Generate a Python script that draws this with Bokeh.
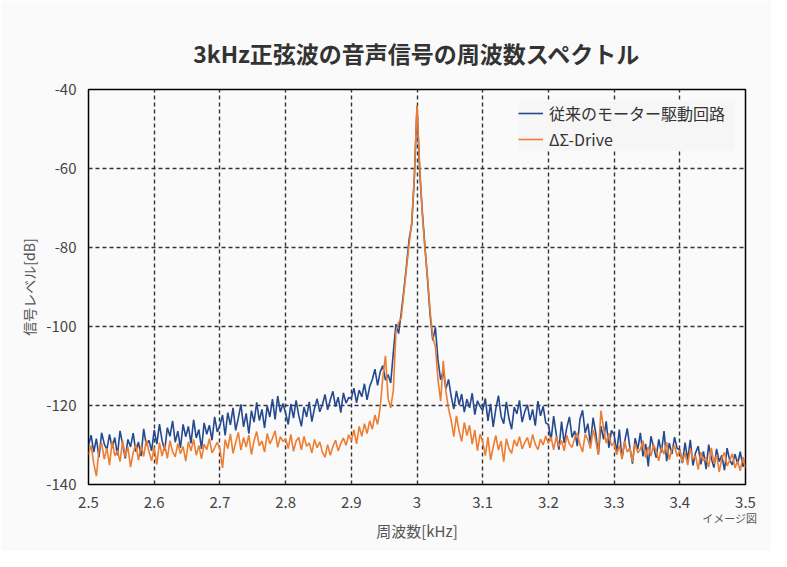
import numpy as np
from bokeh.plotting import figure
from bokeh.models import FixedTicker, Legend, LegendItem, LinearAxis
from bokeh.embed import file_html
from bokeh.resources import INLINE

# Spectrum of a 3 kHz sine tone
# frequency bins: 2.500 .. 3.500 kHz, 0.004 kHz apart
FREQ_START = 2.5
FREQ_STEP = 0.004
N_BINS = 251

# conventional motor drive circuit [dB]
BLUE_DB = [
    # 2.50 - 2.60
    -130.2, -127.5, -131.8, -128.4, -133.1, -126.9, -129.7, -131.2, -127.3, -130.8,
    -128.1, -132.6, -126.4, -129.9, -133.4, -128.6, -130.5, -127.0, -131.7, -129.2,
    -132.8, -125.9, -130.1, -128.8, -131.5,
    # 2.60 - 2.70
    -126.2, -129.8, -124.7, -128.9, -131.4, -125.6, -127.8, -123.9, -129.3, -126.5,
    -130.7, -124.8, -127.9, -125.3, -129.6, -123.6, -128.2, -126.1, -131.0, -124.4,
    -127.3, -125.0, -128.8, -122.9, -126.7,
    # 2.70 - 2.80
    -125.1, -122.4, -127.6, -121.8, -124.9, -120.6, -126.3, -123.2, -119.7, -125.4,
    -122.0, -127.1, -121.3, -124.2, -119.2, -123.8, -121.0, -125.7, -120.1, -122.9,
    -118.4, -123.5, -117.6, -121.7, -119.5,
    # 2.80 - 2.90
    -121.9, -124.8, -119.6, -123.2, -118.7, -122.5, -125.3, -120.4, -122.9, -119.1,
    -124.1, -120.7, -118.3, -121.6, -119.8, -117.2, -121.1, -118.6, -116.4, -120.3,
    -117.9, -121.8, -116.8, -119.4, -118.0,
    # 2.90 - 3.00
    -118.2, -115.6, -119.3, -116.1, -117.8, -114.5, -118.6, -115.2, -113.4, -110.8,
    -114.9, -111.5, -109.9, -113.6, -112.2, -114.3, -106.5, -99.4, -101.8, -96.5,
    -90.8, -84.6, -77.9, -74.2, -62.3,
    # 3.00 - 3.10
    -44.2, -60.5, -70.8, -79.5, -88.0, -97.2, -103.5, -100.2, -108.6, -113.5,
    -111.2, -115.8, -113.4, -117.6, -120.9, -116.3, -119.8, -117.1, -121.7, -118.4,
    -120.6, -116.9, -122.3, -118.8, -120.2,
    # 3.10 - 3.20
    -121.3, -118.2, -123.9, -119.6, -125.4, -120.8, -117.5, -122.7, -124.6, -119.1,
    -123.3, -126.0, -120.4, -122.1, -118.7, -124.2, -121.6, -119.8, -123.7, -121.0,
    -125.1, -118.9, -122.6, -120.2, -124.4,
    # 3.20 - 3.30
    -124.8, -128.9, -122.7, -127.3, -131.2, -124.1, -129.5, -125.6, -122.9, -128.1,
    -126.4, -130.3, -123.5, -121.2, -127.0, -124.6, -129.8, -123.1, -126.9, -132.4,
    -125.2, -128.6, -124.0, -130.7, -126.3,
    # 3.30 - 3.40
    -127.4, -131.8, -126.1, -133.5, -129.2, -125.8, -130.6, -134.7, -128.3, -131.1,
    -126.9, -132.9, -129.7, -135.4, -127.8, -130.4, -133.2, -128.6, -131.9, -126.5,
    -134.1, -129.5, -132.3, -128.0, -130.9,
    # 3.40 - 3.50
    -131.2, -134.6, -129.4, -133.8, -128.7, -135.2, -132.0, -130.3, -134.9, -131.6,
    -136.1, -129.9, -133.4, -135.7, -131.0, -134.2, -132.6, -136.4, -130.8, -133.9,
    -135.0, -132.3, -134.8, -131.7, -135.5, -133.6,
]

# delta-sigma drive [dB]
ORANGE_DB = [
    # 2.50 - 2.60
    -132.4, -130.1, -134.7, -137.9, -131.2, -129.5, -133.6, -130.8, -135.1, -129.0,
    -132.7, -131.4, -134.2, -128.9, -133.0, -130.5, -135.6, -131.9, -129.8, -133.8,
    -130.2, -132.9, -128.7, -131.6, -134.0,
    # 2.60 - 2.70
    -130.6, -134.9, -129.4, -132.8, -130.0, -133.4, -128.9, -131.7, -133.0, -129.6,
    -132.2, -130.4, -134.1, -129.2, -131.5, -128.6, -132.6, -130.1, -133.5, -129.8,
    -131.2, -128.4, -132.0, -130.7, -129.3,
    # 2.70 - 2.80
    -131.0, -135.8, -128.6, -130.9, -127.2, -132.1, -129.4, -126.8, -131.3, -128.1,
    -130.5, -127.5, -132.4, -128.9, -126.6, -130.2, -129.0, -131.8, -127.1, -129.7,
    -128.3, -126.4, -130.6, -127.9, -129.1,
    # 2.80 - 2.90
    -128.4, -130.9, -127.3, -131.6, -129.0, -128.1, -131.2, -127.8, -130.3, -129.5,
    -132.0, -128.6, -130.7, -129.2, -131.8, -133.1, -129.9, -132.6, -130.4, -128.8,
    -131.5, -129.6, -128.2, -130.1, -127.4,
    # 2.90 - 3.00
    -128.9, -126.2, -129.7, -125.3, -127.8, -124.6, -127.1, -123.9, -126.0, -122.4,
    -124.8, -120.5, -112.8, -107.4, -118.2, -120.6, -116.1, -101.2, -99.0, -97.8,
    -91.5, -85.3, -79.2, -73.5, -61.7,
    # 3.00 - 3.10
    -44.0, -58.9, -71.5, -80.3, -87.4, -96.1, -102.7, -105.1, -113.6, -118.9,
    -108.7, -116.4, -120.8, -123.7, -127.9, -122.6, -126.4, -129.1, -124.3, -127.6,
    -125.0, -129.8, -126.2, -131.4, -127.3,
    # 3.10 - 3.20
    -129.2, -132.7, -128.0, -133.8, -130.5, -127.6, -131.3, -129.0, -134.2, -128.4,
    -130.9, -132.1, -128.7, -130.3, -127.9, -131.0, -129.4, -128.1, -130.7, -127.3,
    -129.8, -131.2, -128.5, -130.0, -127.7,
    # 3.20 - 3.30
    -129.6, -128.0, -131.2, -127.8, -130.3, -128.9, -131.5, -127.5, -129.8, -130.6,
    -128.2, -126.9, -129.9, -131.8, -127.3, -128.6, -130.9, -126.1, -128.9, -132.4,
    -121.3, -125.8, -129.5, -127.0, -130.2,
    # 3.30 - 3.40
    -129.4, -132.5, -130.1, -133.6, -129.0, -131.8, -130.7, -134.3, -129.6, -132.0,
    -131.1, -128.9, -133.2, -130.4, -132.8, -129.9, -131.5, -134.0, -130.6, -132.3,
    -129.3, -133.7, -131.0, -130.2, -132.9,
    # 3.40 - 3.50
    -131.3, -134.4, -132.0, -135.1, -130.9, -133.6, -132.7, -136.2, -131.8, -134.0,
    -133.1, -135.6, -130.7, -134.8, -132.5, -136.8, -133.3, -131.9, -135.3, -133.9,
    -132.2, -135.8, -134.1, -136.5, -133.0, -135.7,
]

SERIES_NAMES = ["従来のモーター駆動回路", "ΔΣ-Drive"]

X_TICKS = [2.5, 2.6, 2.7, 2.8, 2.9, 3.0, 3.1, 3.2, 3.3, 3.4, 3.5]
X_TICK_LABELS = ["2.5", "2.6", "2.7", "2.8", "2.9", "3", "3.1", "3.2", "3.3", "3.4", "3.5"]
Y_TICKS = [-140, -120, -100, -80, -60, -40]
Y_TICK_LABELS = ["-140", "-120", "-100", "-80", "-60", "-40"]

# "イメージ図" note sits under the right end of the x axis
NOTE_X = 3.476
NOTE_TEXT = "イメージ図"

FONT = "Noto Sans CJK JP"
BG = "#fafafa"

freq = np.round(FREQ_START + FREQ_STEP * np.arange(N_BINS), 3)

p = figure(
    width=771, height=551,
    x_range=(2.5, 3.5), y_range=(-140, -40),
    output_backend="svg", toolbar_location=None,
    min_border_left=88, min_border_right=26,
    min_border_top=89, min_border_bottom=67,
)
p.background_fill_color = BG
p.border_fill_color = BG
p.outline_line_color = "black"
p.outline_line_width = 1.5

# title
p.title.text = "3kHz正弦波の音声信号の周波数スペクトル"
p.title.align = "center"
p.title.text_font = FONT
p.title.text_font_size = "23px"
p.title.text_font_style = "bold"
p.title.text_color = "#333333"
p.title.standoff = 40

r_blue = p.line(freq, BLUE_DB, line_color="#24498f", line_width=1.6)
r_orange = p.line(freq, ORANGE_DB, line_color="#ed7d31", line_width=1.6)

# second bottom axis: carries the note and the x axis title
note_axis = LinearAxis(ticker=FixedTicker(ticks=[NOTE_X]),
                       major_label_overrides={NOTE_X: NOTE_TEXT})
p.add_layout(note_axis, "below")

# axes
p.xaxis[0].ticker = FixedTicker(ticks=X_TICKS)
p.xaxis[0].major_label_overrides = dict(zip(X_TICKS, X_TICK_LABELS))
p.yaxis.ticker = FixedTicker(ticks=Y_TICKS)
p.yaxis.major_label_overrides = dict(zip(Y_TICKS, Y_TICK_LABELS))
for ax in p.xaxis + p.yaxis:
    ax.axis_line_color = None
    ax.major_tick_line_color = None
    ax.minor_tick_line_color = None
    ax.major_tick_out = 0
    ax.major_tick_in = 0
    ax.major_label_text_font = FONT
    ax.major_label_text_font_size = "15px"
    ax.major_label_text_color = "#444444"
    ax.axis_label_text_font = FONT
    ax.axis_label_text_font_size = "15px"
    ax.axis_label_text_font_style = "normal"
    ax.axis_label_text_color = "#555555"
p.xaxis[0].major_label_standoff = 12
p.yaxis.major_label_standoff = 12

note_axis.major_label_text_font_size = "11px"
note_axis.major_label_text_color = "#555555"
note_axis.major_label_standoff = -1
note_axis.axis_label = "周波数[kHz]"
note_axis.axis_label_standoff = -9

p.yaxis.axis_label = "信号レベル[dB]"
p.yaxis.axis_label_text_font_size = "14px"
p.yaxis.axis_label_standoff = 4

# grid
p.grid.grid_line_color = "#333333"
p.grid.grid_line_dash = "4 3"
p.grid.grid_line_width = 1.4
p.xgrid.ticker = FixedTicker(ticks=X_TICKS)
p.ygrid.ticker = FixedTicker(ticks=Y_TICKS)

legend = Legend(
    items=[LegendItem(label=SERIES_NAMES[0], renderers=[r_blue]),
           LegendItem(label=SERIES_NAMES[1], renderers=[r_orange])],
    location=(430, 333), margin=0, padding=10,
    label_text_font=FONT, label_text_font_size="16px", label_text_color="#333333",
    glyph_width=25, glyph_height=20, label_height=20, label_width=186,
    spacing=2, label_standoff=6,
    background_fill_color="#f6f6f6", background_fill_alpha=1.0,
    border_line_color=None,
)
p.add_layout(legend)

open("out.html", "w").write(file_html(p, INLINE))
